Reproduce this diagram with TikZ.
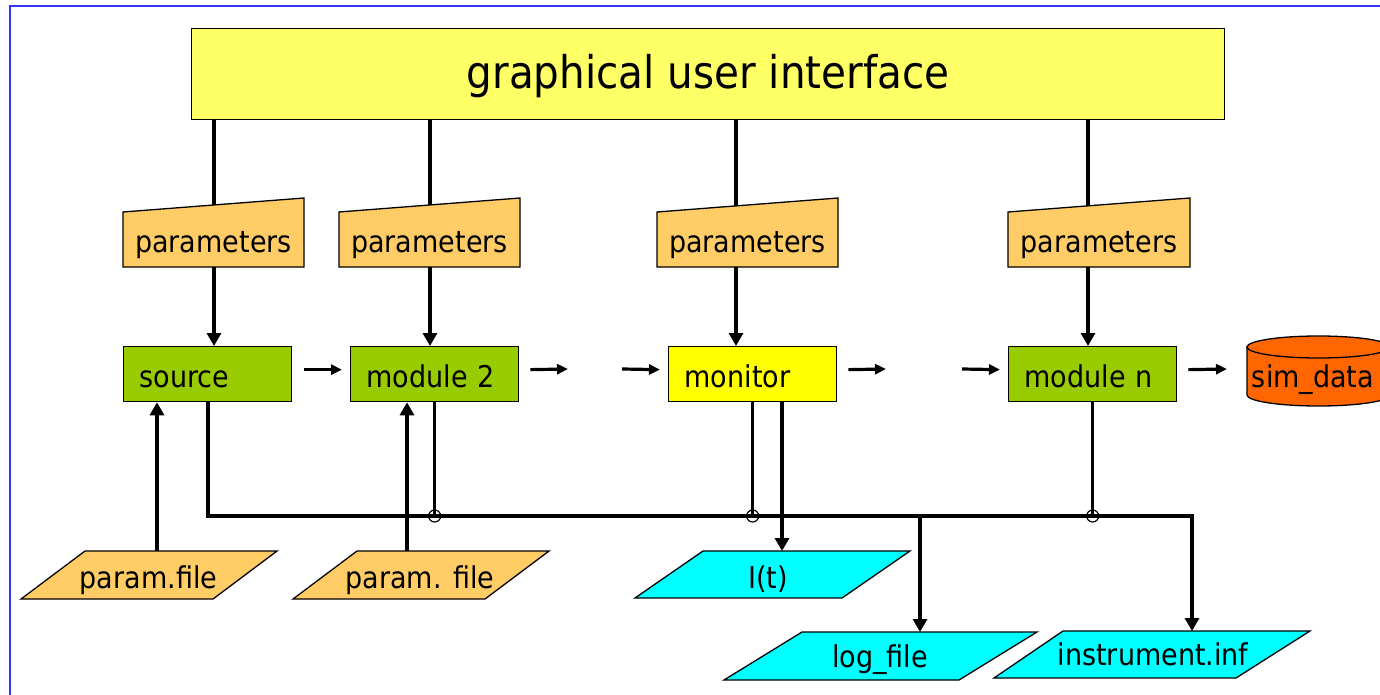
\documentclass[tikz,border=0pt]{standalone}
\usepackage{fontspec}
\setmainfont{DejaVu Sans Condensed}
\usetikzlibrary{arrows.meta,calc}
\definecolor{guiY}{HTML}{FFFF66}
\definecolor{parO}{HTML}{FFCC66}
\definecolor{modG}{HTML}{99CC00}
\definecolor{monY}{HTML}{FFFF00}
\definecolor{simO}{HTML}{FF6600}
\definecolor{datC}{HTML}{00FFFF}
\definecolor{frameB}{HTML}{3333FF}
\newcommand\lblfont{\fontsize{30}{36}\selectfont}
\newcommand\ttlfont{\fontsize{45}{50}\selectfont}
\newcommand\mkparam[4]{%
  \filldraw[box,fill=parO] (#2,212) -- (#3,198) -- (#3,267) -- (#2,267) -- cycle;
  \node[lbltext] (#1) at ({(#2+#3)/2},252) {parameters};
  \coordinate (#1-top) at (#4,{212-14*(#4-#2)/(#3-#2)});
  \coordinate (#1-bot) at (#4,267);
}
\begin{document}
\begin{tikzpicture}[x=1pt,y=-1pt,
  conn/.style={line width=3.2pt},
  varrow/.style={conn,-{Triangle[length=13pt,width=14pt]}},
  harrow/.style={conn,-{Triangle[length=11pt,width=10pt]}},
  bus/.style={line width=4.2pt,line join=miter},
  box/.style={draw=black,line width=1.3pt},
  module/.style={box,fill=modG,anchor=north west,minimum width=168pt,minimum height=55pt,
    inner xsep=16pt,inner ysep=0pt,text width=136pt,align=left,text height=30pt,text depth=3pt,font=\lblfont},
  lbltext/.style={anchor=base,inner sep=0pt,font=\lblfont},
  hop/.style={draw=black,line width=1.2pt},
]
\useasboundingbox (0,0) rectangle (1380,695);
\fill[white] (0,0) rectangle (1380,695);
\draw[frameB,line width=2.2pt] (10,695) -- (10,6) -- (1380,6);

% GUI
\node[box,fill=guiY,anchor=north west,minimum width=1033pt,minimum height=91pt,inner sep=0pt,
  text height=32pt,text depth=3pt,font=\ttlfont] (gui) at (191,28) {graphical user interface};

% parameter boxes
\mkparam{par1}{123}{304}{214}
\mkparam{par2}{339}{520}{430}
\mkparam{par3}{657}{838}{736}
\mkparam{par4}{1008}{1190}{1088}

% modules
\node[module] (src) at (123,346) {source};
\node[module] (mod2) at (350,346) {module 2};
\node[module,fill=monY] (mon) at (668,346) {monitor};
\node[module] (modn) at (1008,346) {module n};

% sim_data cylinder
\filldraw[box,fill=simO] (1247,347) -- (1247,395) arc[start angle=180,end angle=0,x radius=71.5,y radius=11] -- (1390,347) -- cycle;
\filldraw[box,fill=simO] (1318.5,347) ellipse[x radius=71.5,y radius=11];
\node[lbltext] (sim) at (1313,387) {sim\_data};
\coordinate (simw) at (1247,369);

% data files
\filldraw[box,fill=parO] (85,551) -- (277,551) -- (213,599) -- (21,599) -- cycle;
\node[lbltext] (pf1) at (148.5,588) {param.file};
\coordinate (pf1-top) at (157,551);
\filldraw[box,fill=parO] (357,551) -- (549,551) -- (485,599) -- (293,599) -- cycle;
\node[lbltext] (pf2) at (420,588) {param. file};
\coordinate (pf2-top) at (407,551);
\filldraw[box,fill=datC] (703,551) -- (910,551) -- (842,598) -- (635,598) -- cycle;
\node[lbltext] (it) at (768,588) {I(t)};
\coordinate (it-top) at (782,551);
\filldraw[box,fill=datC] (802,632) -- (1037,632) -- (959,680) -- (724,680) -- cycle;
\node[lbltext] (log) at (880,667) {log\_file};
\coordinate (log-top) at (920,632);
\filldraw[box,fill=datC] (1063,631) -- (1310,631) -- (1236,678) -- (994,678) -- cycle;
\node[lbltext] (ins) at (1153,665) {instrument.inf};
\coordinate (ins-top) at (1192,631);

% GUI -> parameters -> modules
\foreach \p/\m in {par1/src,par2/mod2,par3/mon,par4/modn}{
  \draw[conn] (gui.south -| \p-top) -- (\p-top);
  \draw[varrow] (\p-bot) -- (\p-bot |- \m.north);
}

% chain arrows
\coordinate (g1a) at (568,369);
\coordinate (g1b) at (622,369);
\coordinate (g2a) at (886,369);
\coordinate (g2b) at (962,369);
\draw[harrow] ([shift={(12,-4.5)}]src.east) -- ([shift={(-8,-4.5)}]mod2.west);
\draw[harrow] ([shift={(11,-4.5)}]mod2.east) -- (g1a);
\draw[harrow] (g1b) -- ([shift={(-8,-4.5)}]mon.west);
\draw[harrow] ([shift={(11,-4.5)}]mon.east) -- (g2a);
\draw[harrow] (g2b) -- ([shift={(-8,-4.5)}]modn.west);
\draw[harrow] ([shift={(11,-4.5)}]modn.east) -- ([xshift=-20pt]simw);

% input files
\draw[varrow] (pf1-top) -- (pf1-top |- src.south);
\draw[varrow] (pf2-top) -- (pf2-top |- mod2.south);

% bus
\coordinate (bus) at (0,516);
\draw[bus,-{Triangle[length=13pt,width=14pt]}] (src.south) -- (src.south |- bus) -- (ins-top |- bus) -- (ins-top);
\draw[conn] (mod2.south) -- (mod2.south |- bus);
\draw[conn] (mon.south) -- (mon.south |- bus);
\draw[conn] (modn.south) -- (modn.south |- bus);
\draw[varrow] (log-top |- bus) -- (log-top);
\draw[varrow] (it-top |- mon.south) -- (it-top);
\draw[hop] (mod2.south |- bus) circle[radius=6];
\draw[hop] (mon.south |- bus) circle[radius=6];
\draw[hop] (modn.south |- bus) circle[radius=6];
\end{tikzpicture}
\end{document}
